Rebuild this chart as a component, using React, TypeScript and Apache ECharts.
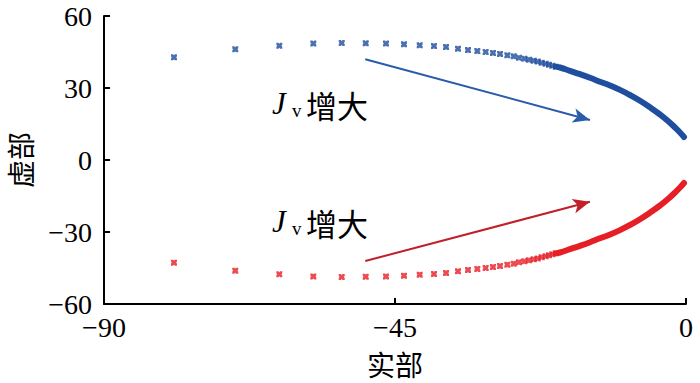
import React, { useEffect, useRef } from "react";
import * as echarts from "echarts";

// Axis ticks
const xTicks = [-90, -45, 0];
const yTicks = [-60, -30, 0, 30, 60];

// Upper branch (blue) distinct markers: real part, imaginary part
const blueRe = [-79.18, -69.7, -62.89, -57.63, -53.24, -49.53, -46.39, -43.61, -41.18, -38.97, -37.11, -35.26, -33.71, -32.27, -30.98, -29.85, -28.76, -27.63, -26.64, -25.83, -25.0, -24.28, -23.55, -22.93, -22.32, -21.7, -21.19, -20.67, -20.15];
const blueIm = [42.8, 46.1, 47.6, 48.5, 48.75, 48.6, 48.5, 48.2, 47.8, 47.5, 47.1, 46.4, 45.8, 45.4, 45.0, 44.6, 44.2, 43.6, 43.2, 42.6, 42.2, 41.8, 41.4, 41.0, 40.5, 40.1, 39.7, 39.3, 38.9];
// Upper branch dense (overlapping markers) band
const blueBandRe = [-20.15, -19.48, -17.94, -16.39, -14.85, -13.3, -11.75, -10.21, -8.66, -7.11, -5.57, -4.02, -2.78, -1.7, -0.93, -0.31];
const blueBandIm = [38.9, 38.54, 37.17, 35.75, 34.25, 32.63, 31.04, 29.21, 27.08, 24.67, 21.96, 18.96, 16.25, 13.54, 11.46, 9.58];

// Lower branch (red)
const redRe = [-79.18, -69.7, -62.89, -57.63, -53.24, -49.53, -46.39, -43.61, -41.18, -38.97, -37.11, -35.26, -33.71, -32.27, -30.98, -29.85, -28.76, -27.63, -26.64, -25.83, -25.0, -24.28, -23.55, -22.93, -22.32, -21.7, -21.19, -20.67, -20.15];
const redIm = [-42.8, -46.1, -47.6, -48.5, -48.75, -48.6, -48.5, -48.2, -47.8, -47.5, -47.1, -46.4, -45.8, -45.4, -45.0, -44.6, -44.2, -43.6, -43.2, -42.6, -42.2, -41.8, -41.4, -41.0, -40.5, -40.1, -39.7, -39.3, -38.9];
const redBandRe = [-20.15, -19.48, -17.94, -16.39, -14.85, -13.3, -11.75, -10.21, -8.66, -7.11, -5.57, -4.02, -2.78, -1.7, -0.93, -0.31];
const redBandIm = [-38.9, -38.54, -37.17, -35.75, -34.25, -32.63, -31.04, -29.21, -27.08, -24.67, -21.96, -18.96, -16.25, -13.54, -11.46, -9.58];

// Annotation arrows [start, end] in data coords
const blueArrow = [[-49.6, 42.0], [-14.85, 16.7]];
const redArrow = [[-49.6, -42.1], [-14.85, -17.4]];

const BLUE = "#1f4e9e";
const RED = "#e61e25";
const BLUE_ARROW = "#2a5cab";
const RED_ARROW = "#c0202a";
const SERIF = '"Liberation Serif", "Times New Roman", serif';
const CJK = '"Noto Sans CJK SC", sans-serif';
const XMARK = "path://M0 0L3.5 0L5 1.5L6.5 0L10 0L10 3.5L8.5 5L10 6.5L10 10L6.5 10L5 8.5L3.5 10L0 10L0 6.5L1.5 5L0 3.5Z";

const minus = (v: number) => String(v).replace("-", "\u2212");

function label(x: number, y: number) {
  return [
    { type: "text", x, y, style: { text: "J", fontFamily: SERIF, fontSize: 31, fontStyle: "italic", verticalAlign: "middle", align: "left", fill: "#000" } },
    { type: "text", x: x + 20, y: y + 7, style: { text: "v", fontFamily: SERIF, fontSize: 19, verticalAlign: "middle", align: "left", fill: "#000" } },
    { type: "text", x: x + 34, y: y + 1, style: { text: "增大", fontFamily: CJK, fontSize: 31, verticalAlign: "middle", align: "left", fill: "#000" } },
  ];
}

export default function App() {
  const ref = useRef<HTMLDivElement>(null);
  useEffect(() => {
    document.body.style.margin = "0";
    const chart = echarts.init(ref.current!, null, { renderer: "svg" });
    const axisCommon = {
      type: "value",
      axisLine: { show: true, onZero: false, lineStyle: { color: "#000", width: 2 } },
      axisTick: { show: true, inside: true, length: 6, lineStyle: { color: "#000", width: 2 } },
      splitLine: { show: false },
    };
    const arrowLine = (pts: number[][], color: string) => ({
      silent: true,
      symbol: ["none", "arrow"],
      symbolSize: [11, 17],
      label: { show: false },
      lineStyle: { color, width: 2, type: "solid" },
      emphasis: { disabled: true },
      data: [[{ coord: pts[0] }, { coord: pts[1] }]],
    });
    chart.setOption({
      animation: false,
      grid: { left: 104, right: 14, top: 16, bottom: 79, containLabel: false, outerBoundsMode: "none" },
      xAxis: {
        ...axisCommon,
        min: xTicks[0],
        max: xTicks[xTicks.length - 1],
        interval: 45,
        name: "实部",
        nameLocation: "middle",
        nameGap: 46,
        nameTextStyle: { fontFamily: CJK, fontSize: 28, lineHeight: 28, color: "#000" },
        axisLabel: { color: "#000", fontFamily: SERIF, fontSize: 28, margin: 9, formatter: minus },
      },
      yAxis: {
        ...axisCommon,
        min: yTicks[0],
        max: yTicks[yTicks.length - 1],
        interval: 30,
        name: "虚部",
        nameLocation: "middle",
        nameGap: 70,
        nameTextStyle: { fontFamily: CJK, fontSize: 28, lineHeight: 28, color: "#000" },
        axisLabel: { color: "#000", fontFamily: SERIF, fontSize: 28, margin: 12, formatter: minus },
      },
      graphic: [...label(272, 103), ...label(272, 221)],
      series: [
        {
          type: "line",
          data: blueBandRe.map((x, i) => [x, blueBandIm[i]]),
          showSymbol: false,
          symbol: "none",
          smooth: true,
          lineStyle: { color: BLUE, width: 6, cap: "round" },
          silent: true,
          z: 2,
        },
        {
          type: "line",
          data: redBandRe.map((x, i) => [x, redBandIm[i]]),
          showSymbol: false,
          symbol: "none",
          smooth: true,
          lineStyle: { color: RED, width: 6, cap: "round" },
          silent: true,
          z: 2,
        },
        {
          type: "scatter",
          data: blueRe.map((x, i) => [x, blueIm[i]]),
          symbol: XMARK,
          symbolSize: 6,
          itemStyle: { color: BLUE },
          silent: true,
          z: 3,
          markLine: arrowLine(blueArrow, BLUE_ARROW),
        },
        {
          type: "scatter",
          data: redRe.map((x, i) => [x, redIm[i]]),
          symbol: XMARK,
          symbolSize: 6,
          itemStyle: { color: RED },
          silent: true,
          z: 3,
          markLine: arrowLine(redArrow, RED_ARROW),
        },
      ],
    });
    return () => chart.dispose();
  }, []);
  return <div ref={ref} style={{ width: 700, height: 383 }} />;
}
